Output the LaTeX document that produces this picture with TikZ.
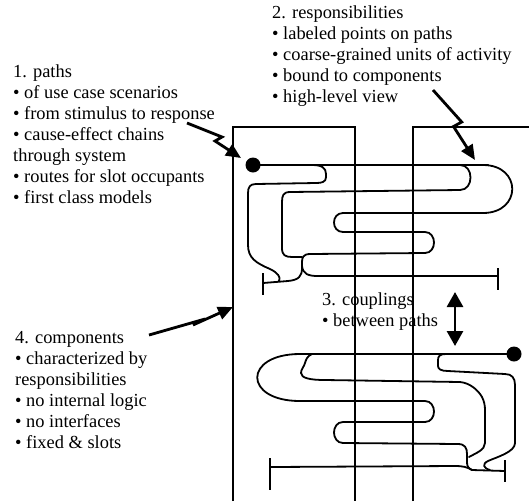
\documentclass[tikz,border=0pt]{standalone}
\usepackage{fontspec}
\setmainfont{Liberation Serif}
\usetikzlibrary{arrows.meta}
\begin{document}
\begin{tikzpicture}[x=1pt,y=-1pt,
  lbl/.style={font=\fontsize{18.4}{21}\selectfont, align=left, inner sep=0pt, anchor=north west},
  comp/.style={line width=1.7pt},
  ucm/.style={line width=1.8pt, line join=round, line cap=round},
  mainln/.style={line width=2.4pt, line cap=round},
  barln/.style={line width=1.7pt},
  startpt/.style={circle, fill=black, draw=none, minimum size=15pt, inner sep=0pt},
  bolt/.style={line width=2.8pt, line join=miter, -{Triangle[length=15pt,width=13pt]}}]
\useasboundingbox (0,0) rectangle (529,501);

% texts
\node[lbl] (t1) at (13,64.4) {1. paths\\• of use case scenarios\\• from stimulus to response\\• cause-effect chains\\through system\\• routes for slot occupants\\• first class models};
\node[lbl] (t2) at (272,5.7) {2. responsibilities\\• labeled points on paths\\• coarse-grained units of activity\\• bound to components\\• high-level view};
\node[lbl] (t3) at (322,293) {3. couplings\\• between paths};
\node[lbl] (t4) at (15,331.6) {4. components\\• characterized by\\responsibilities\\• no internal logic\\• no interfaces\\• fixed \& slots};

% components
\draw[comp] (233,501) -- (233,127) -- (355,127) -- (355,501);
\draw[comp] (413,501) -- (413,127) -- (529,127);

% ---- top path ----
\node[startpt] (s1) at (253,165) {};
\draw[mainln] (s1.center) -- (488,165);
\draw[ucm] (483,165) .. controls (522,165) and (522,213) .. (483,213) -- (343,213)
  .. controls (331,213) and (331,232) .. (343,232) -- (425,232)
  .. controls (437,232) and (437,253) .. (425,253) -- (310,254)
  .. controls (303,254) and (302,258) .. (302,262) -- (302,270);
\draw[ucm] (302,266) .. controls (303,274) and (308,276) .. (318,276) -- (498,276);
\draw[ucm] (263,283) -- (288,281) .. controls (299,280) and (302,276) .. (302,268);
\draw[ucm] (440,165) -- (460,165) .. controls (474,165) and (474,190) .. (460,190) -- (290,192)
  .. controls (283,192) and (282,196) .. (282,202) -- (282,248)
  .. controls (282,255) and (285,257) .. (292,257) -- (302,257);
\draw[ucm] (312,165) .. controls (322,165) and (326,168) .. (326,174) -- (326,177)
  .. controls (326,182) and (322,183) .. (316,183) -- (256,184)
  .. controls (250,184) and (248,187) .. (248,193) -- (248,245)
  .. controls (248,258) and (256,263) .. (270,269)
  .. controls (278,273) and (281,277) .. (279,281);
\draw[barln] (263,273) -- (263,295);
\draw[barln] (498,268) -- (498,290);

% ---- bottom path ----
\node[startpt] (s2) at (514,354) {};
\draw[mainln] (s2.center) -- (300,354);
\draw[ucm] (300,354) .. controls (243,354) and (243,401) .. (300,401) -- (425,401)
  .. controls (437,401) and (437,422) .. (425,422) -- (343,422)
  .. controls (331,422) and (331,443) .. (343,443) -- (458,444)
  .. controls (465,444) and (467,448) .. (467,454) -- (467,462)
  .. controls (467,466) and (468,468) .. (472,470);
\draw[ucm] (270,467) -- (455,466) .. controls (463,466) and (467,467) .. (472,470) -- (505,471);
\draw[ucm] (312,354) .. controls (307,356) and (306,360) .. (305,363)
  .. controls (304,367) and (301,369) .. (301,373)
  .. controls (301,378) and (310,380) .. (325,380) -- (460,382)
  .. controls (470,383) and (478,390) .. (482,397)
  .. controls (484,401) and (485,405) .. (485,410) -- (485,443)
  .. controls (485,450) and (476,453) .. (469,457);
\draw[ucm] (446,354) .. controls (440,354) and (438,356) .. (438,360) -- (438,366)
  .. controls (438,369) and (441,371) .. (448,371) -- (505,374)
  .. controls (512,374) and (515,378) .. (515,385) -- (515,443)
  .. controls (515,452) and (497,457) .. (488,461)
  .. controls (482,464) and (483,468) .. (490,470);
\draw[barln] (270,458) -- (270,490);
\draw[barln] (505,460) -- (505,482);

% ---- arrows ----
\coordinate (a1s) at (187,123); \coordinate (a1m) at (222,137);
\coordinate (a1n) at (215,141); \coordinate (a1e) at (241,158);
\draw[bolt] (a1s) -- (a1m) -- (a1n) -- (a1e);
\coordinate (a2s) at (433,90); \coordinate (a2m) at (461.7,122);
\coordinate (a2n) at (453.5,126.5); \coordinate (a2e) at (475,160);
\draw[bolt] (a2s) -- (a2m) -- (a2n) -- (a2e);
\coordinate (a4s) at (149,335); \coordinate (a4m) at (205,319);
\coordinate (a4n) at (193,325); \coordinate (a4e) at (233,307);
\draw[bolt] (a4s) -- (a4m) -- (a4n) -- (a4e);
\coordinate (c1) at (455,292); \coordinate (c2) at (455,346);
\draw[line width=2.8pt, {Triangle[length=15pt,width=16pt]}-{Triangle[length=15pt,width=16pt]}] (c1) -- (c2);
\end{tikzpicture}
\end{document}
